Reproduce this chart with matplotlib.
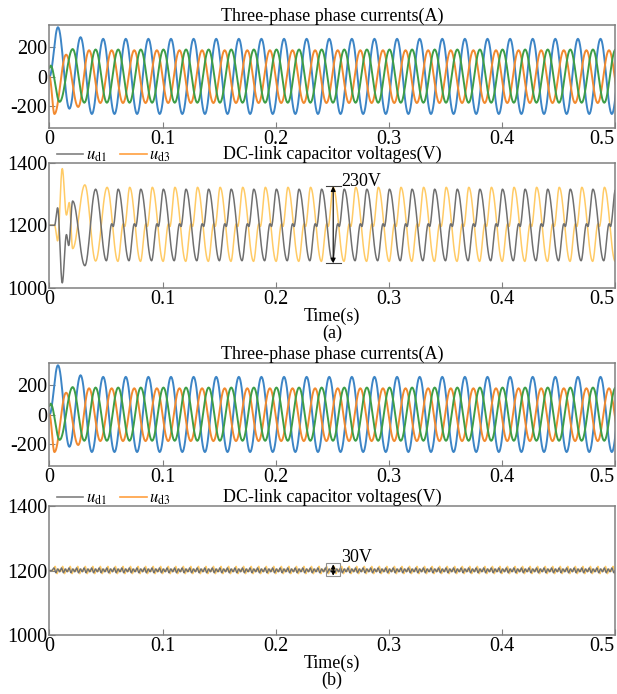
import numpy as np
import matplotlib.pyplot as plt
from matplotlib.lines import Line2D
from matplotlib.patches import Rectangle

plt.rcParams.update({
    'font.family': ['Liberation Serif', 'DejaVu Serif'],
    'mathtext.fontset': 'stix',
    'font.size': 13,
})

T_END = 0.5
PERIOD = 0.02

ia_t = [0.0, 0.0075, 0.0176, 0.0275]
ia_v = [0, 337, -219, 269]
ia_first, ia_cycle_dt, ia_cycle_v = 0.0375, [0.0, 0.01], [-255, 258]

ib_t = [0.0, 0.0044, 0.0147, 0.0254]
ib_v = [0, -255, 150, -207]
ib_first, ib_cycle_dt, ib_cycle_v = 0.0350, [0.0, 0.01], [180, -180]

ic_t = [0.0, 0.0010, 0.0090, 0.0205]
ic_v = [60, 75, -172, 188]
ic_first, ic_cycle_dt, ic_cycle_v = 0.0308, [0.0, 0.01], [-178, 185]

# ---- DC-link voltages, case (a)
ud1a_t = [0.0, 0.0045, 0.0072, 0.0113, 0.0150, 0.0170, 0.0205, 0.0313]
ud1a_v = [1200, 1200, 1256, 1015, 1170, 1135, 1278, 1070]
ud1a_first = 0.0408
ud1a_cycle_dt = [0.0, 0.0095, 0.0143, 0.0155]
ud1a_cycle_v = [1316, 1086, 1205, 1196]

ud3a_t = [0.0, 0.0045, 0.0072, 0.0113, 0.0150, 0.0175, 0.0205, 0.0313, 0.0408]
ud3a_v = [1200, 1200, 1150, 1382, 1233, 1273, 1125, 1330, 1085]
ud3a_first = 0.0510
ud3a_cycle_dt = [0.0, 0.0095, 0.0143, 0.0155]
ud3a_cycle_v = [1322, 1084, 1205, 1196]

# ---- DC-link voltages, case (b)
ud1b_t = [0.0, 0.0020]
ud1b_v = [1200, 1200]
ud1b_first = 0.0040
ud1b_cycle_dt = [0.0, 0.0017, 0.0033, 0.0050]
ud1b_cycle_v = [1208, 1193, 1205, 1196]
RIPPLE_PERIOD = 0.00667

ud3b_t = [0.0, 0.0030]
ud3b_v = [1200, 1200]
ud3b_first = 0.0050
ud3b_cycle_dt = [0.0, 0.0017, 0.0033, 0.0050]
ud3b_cycle_v = [1213, 1190, 1204, 1197]

x_ticks = [0, 0.1, 0.2, 0.3, 0.4, 0.5]
x_ticklabels = ['0', '0.1', '0.2', '0.3', '0.4', '0.5']
i_ticks = [-200, 0, 200]
v_ticks = [1000, 1200, 1400]


def keys(t0, v0, first, cycle_dt, cycle_v, period):
    t, v = list(t0), list(v0)
    base = first
    while base < T_END + period:
        for dt, val in zip(cycle_dt, cycle_v):
            t.append(base + dt)
            v.append(val)
        base += period
    return np.array(t), np.array(v)


def smooth(t, v, n=16):
    # join the extremes with half-cosine segments
    out_t, out_v = [], []
    for i in range(len(t) - 1):
        s = np.linspace(0, 1, n, endpoint=False)
        out_t.append(t[i] + (t[i + 1] - t[i]) * s)
        out_v.append(v[i] + (v[i + 1] - v[i]) * (1 - np.cos(np.pi * s)) / 2)
    return np.concatenate(out_t), np.concatenate(out_v)


def style(ax, ticks, lim):
    ax.set_xlim(0, T_END)
    ax.set_ylim(*lim)
    ax.set_xticks(x_ticks)
    ax.set_xticklabels(x_ticklabels)
    ax.set_yticks(ticks)
    ax.set_yticklabels([str(k) for k in ticks])
    ax.tick_params(direction='in', length=4, color='#808080', labelsize=14.5, pad=1.5)
    ax.get_xticklabels()[-1].set_horizontalalignment('right')
    for sp in ax.spines.values():
        sp.set_color('#808080')
        sp.set_linewidth(1.1)


c_blue, c_orange, c_green = '#3D85C6', '#F28A30', '#3E9E47'
c_grey, c_yellow = '#707070', '#FFCB66'

fig = plt.figure(figsize=(6.17, 6.94), dpi=100)
L, W = 0.0802, 0.916
ax_pos = [
    [L, 0.8156, W, 0.1484],
    [L, 0.5857, W, 0.1794],
    [L, 0.3285, W, 0.1484],
    [L, 0.0850, W, 0.1859],
]
axes = [fig.add_axes(p) for p in ax_pos]

for ax in (axes[0], axes[2]):
    for tt, vv, first, cdt, cv, col in [
        (ia_t, ia_v, ia_first, ia_cycle_dt, ia_cycle_v, c_blue),
        (ib_t, ib_v, ib_first, ib_cycle_dt, ib_cycle_v, c_orange),
        (ic_t, ic_v, ic_first, ic_cycle_dt, ic_cycle_v, c_green),
    ]:
        kt, kv = keys(tt, vv, first, cdt, cv, PERIOD)
        x, y = smooth(kt, kv)
        ax.plot(x, y, color=col, lw=1.4)
    style(ax, i_ticks, (-350, 352))
    ax.set_title('Three-phase phase currents(A)', fontsize=13, pad=2)

ax = axes[1]
for tt, vv, first, cdt, cv, col in [
    (ud3a_t, ud3a_v, ud3a_first, ud3a_cycle_dt, ud3a_cycle_v, c_yellow),
    (ud1a_t, ud1a_v, ud1a_first, ud1a_cycle_dt, ud1a_cycle_v, c_grey),
]:
    kt, kv = keys(tt, vv, first, cdt, cv, PERIOD)
    x, y = smooth(kt, kv)
    ax.plot(x, y, color=col, lw=1.1)

ax = axes[3]
for tt, vv, first, cdt, cv, col in [
    (ud3b_t, ud3b_v, ud3b_first, ud3b_cycle_dt, ud3b_cycle_v, c_yellow),
    (ud1b_t, ud1b_v, ud1b_first, ud1b_cycle_dt, ud1b_cycle_v, c_grey),
]:
    kt, kv = keys(tt, vv, first, cdt, cv, RIPPLE_PERIOD)
    x, y = smooth(kt, kv, n=6)
    ax.plot(x, y, color=col, lw=1.0)

for ax, tag in ((axes[1], '(a)'), (axes[3], '(b)')):
    style(ax, v_ticks, (1000, 1400))
    ax.set_title('DC-link capacitor voltages(V)', fontsize=13, pad=2)
    ax.set_xlabel('Time(s)\n' + tag, fontsize=13, labelpad=-1, linespacing=1.0)
    handles = [Line2D([], [], color='#808080', lw=1.2),
               Line2D([], [], color='#FFA040', lw=1.2)]
    ax.legend(handles, [r'$u_{\mathrm{d1}}$', r'$u_{\mathrm{d3}}$'], ncol=2,
              loc='lower left', bbox_to_anchor=(0.01, 0.98), frameon=False,
              fontsize=12, handlelength=1.6, handletextpad=0.15,
              columnspacing=0.8, borderaxespad=0, borderpad=0.1)

# annotation (a): 230 V swing
ax = axes[1]
ax.plot([0.2445, 0.2575], [1325, 1325], color='#404040', lw=0.8)
ax.plot([0.2445, 0.2575], [1078, 1078], color='#404040', lw=0.8)
ax.annotate('', xy=(0.251, 1325), xytext=(0.251, 1078),
            arrowprops=dict(arrowstyle='<|-|>', color='black', lw=0.8,
                            mutation_scale=7, shrinkA=0, shrinkB=0))
ax.text(0.258, 1340, '230V', fontsize=13, ha='left', va='center')

# annotation (b): 30 V swing
ax = axes[3]
ax.add_patch(Rectangle((0.2445, 1182), 0.0125, 40, fill=False,
                       edgecolor='#909090', lw=0.8, zorder=5))
ax.annotate('', xy=(0.251, 1219), xytext=(0.251, 1184),
            arrowprops=dict(arrowstyle='<|-|>', color='black', lw=0.8,
                            mutation_scale=6, shrinkA=0, shrinkB=0), zorder=6)
ax.text(0.258, 1240, '30V', fontsize=13, ha='left', va='center')

fig.savefig('out.png', dpi=100)
